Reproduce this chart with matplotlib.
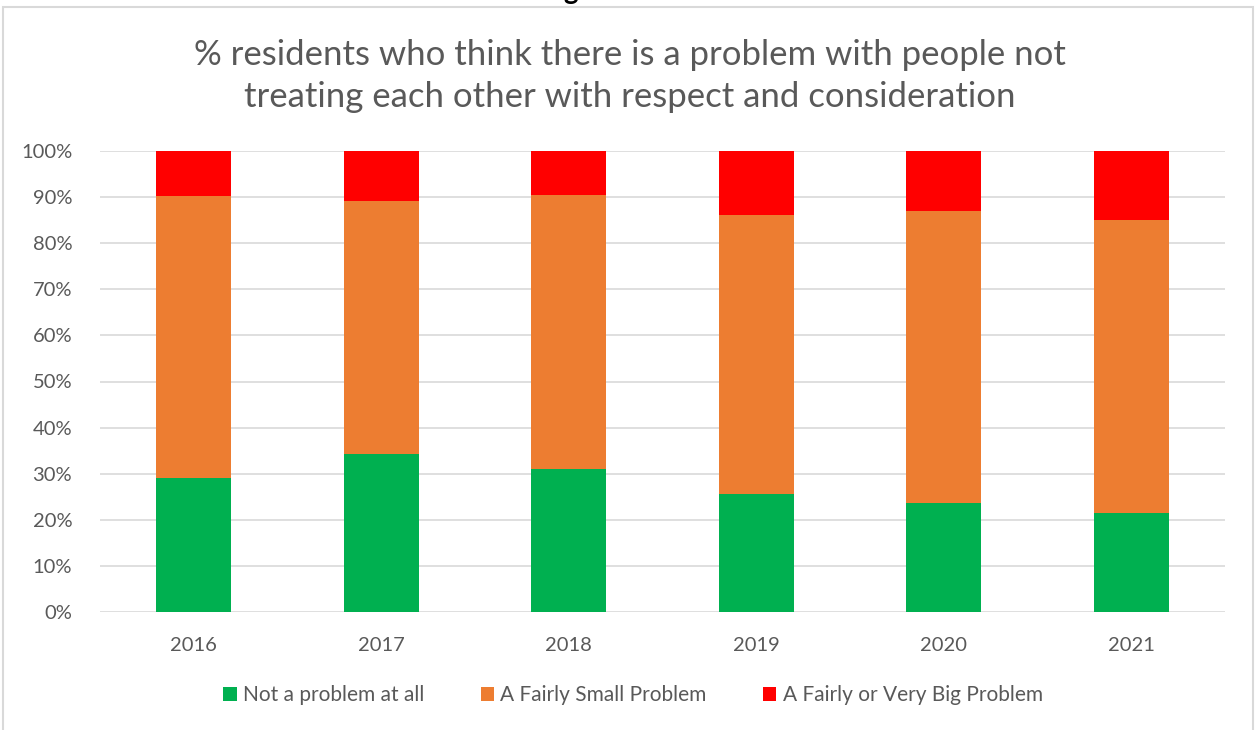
import matplotlib
matplotlib.use("Agg")
import matplotlib.pyplot as plt
from matplotlib.patches import Rectangle

years = ["2016", "2017", "2018", "2019", "2020", "2021"]
not_problem = [29.1, 34.3, 31.0, 25.6, 23.6, 21.5]
small_problem = [61.1, 54.9, 59.5, 60.5, 63.4, 63.5]
big_problem = [9.8, 10.8, 9.5, 13.9, 13.0, 15.0]
series_names = ["Not a problem at all", "A Fairly Small Problem", "A Fairly or Very Big Problem"]
colors = ["#00B050", "#ED7D31", "#FF0000"]
yticks = list(range(0, 101, 10))

plt.rcParams['font.family'] = ['Lato', 'DejaVu Sans']

fig = plt.figure(figsize=(12.56, 7.3), dpi=100)
W, H = 1256, 730
ax = fig.add_axes([100 / W, 1 - 612 / H, 1125 / W, 461 / H])

x = list(range(len(years)))
bottom = [0] * len(years)
for vals, name, c in zip([not_problem, small_problem, big_problem], series_names, colors):
    ax.bar(x, vals, bottom=bottom, width=0.4, color=c, label=name, zorder=3)
    bottom = [b + v for b, v in zip(bottom, vals)]

ax.set_xlim(-0.5, len(years) - 0.5)
ax.set_ylim(0, 100)
ax.set_yticks(yticks)
ax.set_yticklabels([f"{t}%" for t in yticks])
ax.set_xticks(x)
ax.set_xticklabels(years)
ax.tick_params(axis='both', length=0, labelsize=14.5, colors="#595959")
ax.tick_params(axis='x', pad=18)
ax.tick_params(axis='y', pad=20)
ax.grid(axis='y', color="#D9D9D9", linewidth=1.2, zorder=0)
for s in ax.spines.values():
    s.set_visible(False)

fig.text(630 / W, 1 - 76 / H,
         "% residents who think there is a problem with people not\ntreating each other with respect and consideration",
         ha='center', va='center', fontsize=25, color="#595959", linespacing=1.42)

leg = fig.legend(loc='center', bbox_to_anchor=(633 / W, 1 - 695 / H), ncol=3, frameon=False,
                 fontsize=15, handlelength=0.65, handleheight=0.65, handletextpad=0.3,
                 columnspacing=2.7)
for t in leg.get_texts():
    t.set_color("#595959")

# outer chart border
fig.patches.append(Rectangle((3 / W, -0.05), 1250 / W, 1 - 7 / H + 0.05, transform=fig.transFigure,
                             fill=False, edgecolor="#D9D9D9", linewidth=1.5))
# clipped bold character from the surrounding document (only its descender is visible)
fig.text(571 / W, 1 + 1 / H, "g", ha='center', va='baseline', fontsize=20, fontweight='bold', color='black')

fig.savefig("out.png", dpi=100)
